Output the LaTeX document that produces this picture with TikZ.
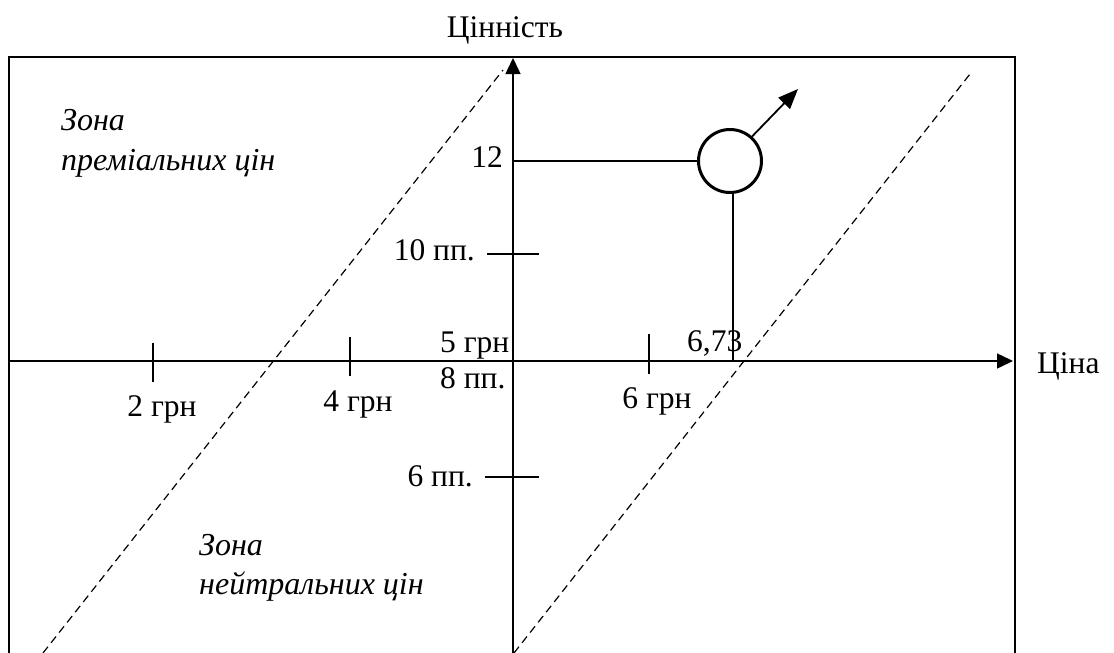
\documentclass[tikz,border=0pt]{standalone}
\usepackage{fontspec}
\setmainfont{Liberation Serif}
\usetikzlibrary{arrows.meta}
\begin{document}
\begin{tikzpicture}[x=1pt,y=-1pt,
  lbl/.style={inner sep=0pt, font=\fontsize{31.5}{36}\selectfont},
  zone/.style={inner sep=0pt, font=\fontsize{32}{36}\selectfont\itshape},
  frame/.style={line width=2.7pt, line join=miter},
  axis/.style={line width=1.5pt, -{Triangle[length=16pt,width=15pt]}},
  tickline/.style={line width=1.3pt},
  guide/.style={line width=1.2pt, dash pattern=on 8pt off 5pt},
  pt/.style={circle, draw, line width=3pt, minimum size=63pt, inner sep=0pt},
]
\clip (0,0) rectangle (1114,653);
% frame
\draw[frame] (9,670) -- (9,57) -- (1015,57) -- (1015,670);
% dashed guide lines
\coordinate (d1a) at (43,653);
\coordinate (d1b) at (503,70);
\coordinate (d2a) at (514,653);
\coordinate (d2b) at (970,74);
\draw[guide] (d1a) -- (d1b);
\draw[guide] (d2a) -- (d2b);
% axes
\coordinate (O) at (513,361);
\coordinate (ytop) at (513,58);
\coordinate (ybot) at (513,653);
\coordinate (xl) at (9,361);
\coordinate (xr) at (1013,361);
\draw[axis] (ybot) -- (ytop);
\draw[axis] (xl) -- (xr);
\node[lbl, anchor=base] (ty) at (505,37) {Цінність};
\node[lbl, anchor=base west] (tx) at (1037,373) {Ціна};
% ticks on price axis
\coordinate (t2a) at (153,343); \coordinate (t2b) at (153,382);
\coordinate (t4a) at (350,337); \coordinate (t4b) at (350,376);
\coordinate (t6a) at (649,334); \coordinate (t6b) at (649,374);
\draw[tickline] (t2a) -- (t2b);
\draw[tickline] (t4a) -- (t4b);
\draw[tickline] (t6a) -- (t6b);
\node[lbl, anchor=base] (l2) at (162,416) {2 грн};
\node[lbl, anchor=base] (l4) at (358,411) {4 грн};
\node[lbl, anchor=base] (l6) at (657,408) {6 грн};
\node[lbl, anchor=base west] (l5) at (440,352) {5 грн};
\node[lbl, anchor=base west] (l8) at (440,388) {8 пп.};
% ticks on value axis
\coordinate (v10a) at (487,254); \coordinate (v10b) at (539,254);
\coordinate (v6a) at (485,477); \coordinate (v6b) at (539,477);
\draw[tickline] (v10a) -- (v10b);
\draw[tickline] (v6a) -- (v6b);
\node[lbl, anchor=base east] (l10) at (475,260) {10 пп.};
\node[lbl, anchor=base east] (l6p) at (473,486) {6 пп.};
\node[lbl, anchor=base east] (l12) at (503,167) {12};
% position circle
\node[pt] (c) at (730,161) {};
\draw[tickline] (c.west) -- (c.west -| O);
\coordinate (vx) at (733,361);
\draw[tickline] (vx) -- (vx |- c.south);
\node[lbl, anchor=base west] (l673) at (687,351) {6,73};
\coordinate (atip) at (798,89);
\draw[line width=1.8pt, -{Triangle[length=20pt,width=16pt]}] (c.48) -- (atip);
% zones
\node[zone, anchor=base west] (z1a) at (61,130) {Зона};
\node[zone, anchor=base west] (z1b) at (61,170) {преміальних цін};
\node[zone, anchor=base west] (z2a) at (199,555) {Зона};
\node[zone, anchor=base west] (z2b) at (199,594) {нейтральних цін};
\end{tikzpicture}
\end{document}
